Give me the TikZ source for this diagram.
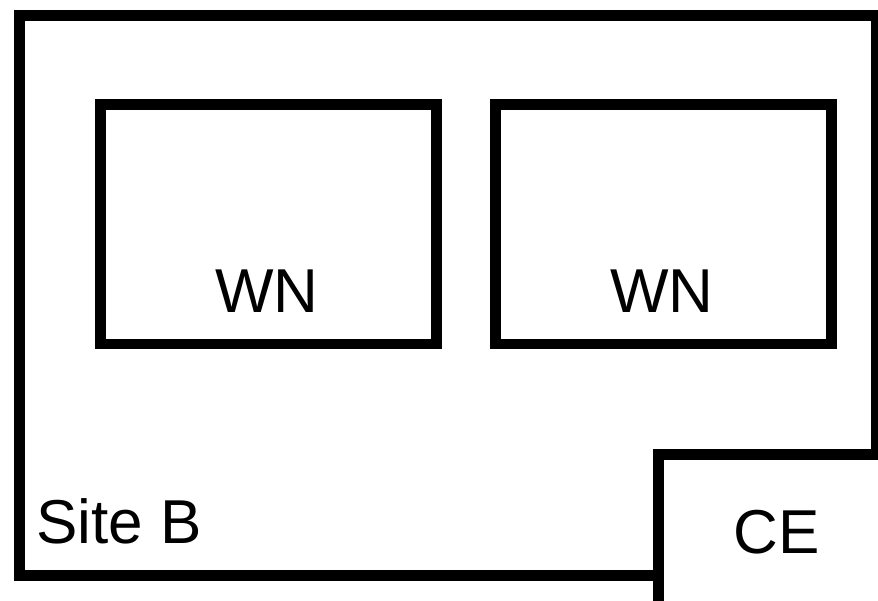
\documentclass[tikz,border=0pt]{standalone}
\usepackage{fontspec}
\setmainfont{Liberation Sans}
\usetikzlibrary{positioning}

\tikzset{
  frame/.style={draw=black, line width=10.5pt},
  wnbox/.style={frame, minimum width=336pt, minimum height=239.5pt, inner sep=0pt},
  lbl/.style={font=\fontsize{62}{68}\selectfont, inner sep=0pt, text=black}
}

\begin{document}
\begin{tikzpicture}[x=1pt, y=-1pt]

% Page size
\useasboundingbox (0,0) rectangle (878,601);
\clip (0,0) rectangle (878,601);

% Site B frame
\draw[frame] (19.5,15.5) rectangle (876,575.5);
\node[lbl, anchor=base west] (site) at (36,543) {Site B};

% Worker nodes
\node[wnbox] (wn1) at (268.5,224.25) {};
\node[wnbox] (wn2) at (663.4,224.25) {};
\node[lbl, anchor=base] (wn1txt) at (267,312.5) {WN};
\node[lbl, anchor=base] (wn2txt) at (662,312.5) {WN};

% CE box, runs off the page
\filldraw[frame, fill=white] (658.3,454.3) rectangle (900,620);
\node[lbl, anchor=base] (ce) at (777,553.5) {CE};

\end{tikzpicture}
\end{document}
